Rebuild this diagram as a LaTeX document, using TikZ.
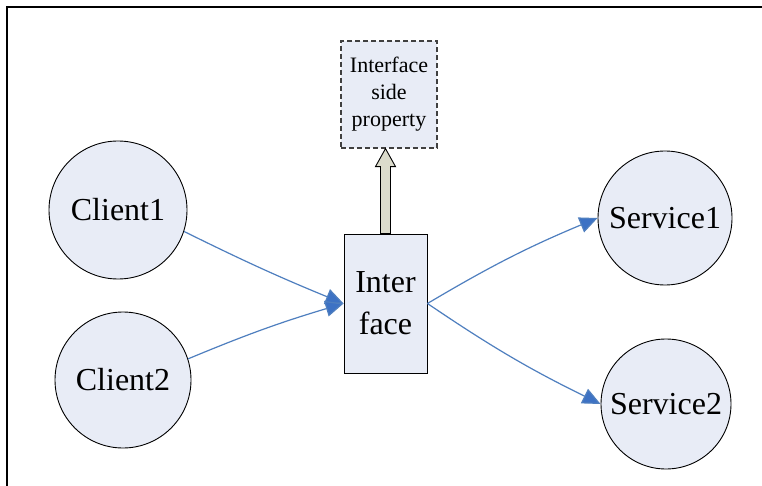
\documentclass[tikz,border=0pt]{standalone}
\usepackage{fontspec}
\setmainfont{Liberation Serif}
\usetikzlibrary{arrows.meta,calc}
\definecolor{nodefill}{HTML}{E8ECF6}
\definecolor{linkblue}{HTML}{4F7FBF}
\definecolor{headblue}{HTML}{3D72C4}
\definecolor{hollowfill}{HTML}{DCDCCC}
\tikzset{
  round/.style={circle,draw=black,line width=0.9pt,fill=nodefill,minimum size=#1,inner sep=0pt,font=\fontsize{32}{36}\selectfont},
  link/.style={draw=linkblue,line width=1.2pt,-{Triangle[length=18pt,width=16pt,fill=headblue]},shorten >=0pt},
  ifbox/.style={draw=black,line width=0.9pt,fill=nodefill,minimum width=83pt,minimum height=139pt,inner sep=0pt,align=center,font=\fontsize{32}{42}\selectfont},
  propbox/.style={draw=black!75,dash pattern=on 5pt off 3pt,line width=1.2pt,fill=nodefill,minimum width=96pt,minimum height=107pt,inner sep=0pt,align=center,font=\fontsize{22}{27}\selectfont}
}
\begin{document}
\begin{tikzpicture}[x=1pt,y=-1pt]
\useasboundingbox (0,0) rectangle (762,486);
\fill[white] (0,0) rectangle (762,486);
\draw[line width=1.2pt] (7,486) -- (7,7) -- (762,7);

\node[round=138pt] (c1) at (118,210) {Client1};
\node[round=136pt] (c2) at (123,380) {Client2};
\node[round=134pt] (s1) at (665,218) {Service1};
\node[round=130pt] (s2) at (666,404) {Service2};

\node[ifbox] (if) at (385.5,303.5) {Inter\\face};
\node[propbox] (pr) at (389,94.5) {Interface\\side\\property};

\coordinate (inL) at (if.west);
\coordinate (outR) at (if.east);

\draw[link] (c1.-18) to[bend right=2] (inL);
\draw[link] (c2.18) to[bend left=3] (inL);
\draw[link] (outR) to[bend left=4] (s1.west);
\draw[link] (outR) to[bend right=4] (s2.west);

% hollow up arrow from interface to property box
\path (if.north) ++(0,0) coordinate (ab);
\path (pr.south) ++(-3.5,0) coordinate (at);
\draw[line width=0.9pt,fill=hollowfill,line join=miter]
  ($(ab)+(-5,0)$) -- ($(at)+(-5,18)$) -- ($(at)+(-10,18)$) -- (at)
  -- ($(at)+(10,18)$) -- ($(at)+(5,18)$) -- ($(ab)+(5,0)$) -- cycle;
\end{tikzpicture}
\end{document}
